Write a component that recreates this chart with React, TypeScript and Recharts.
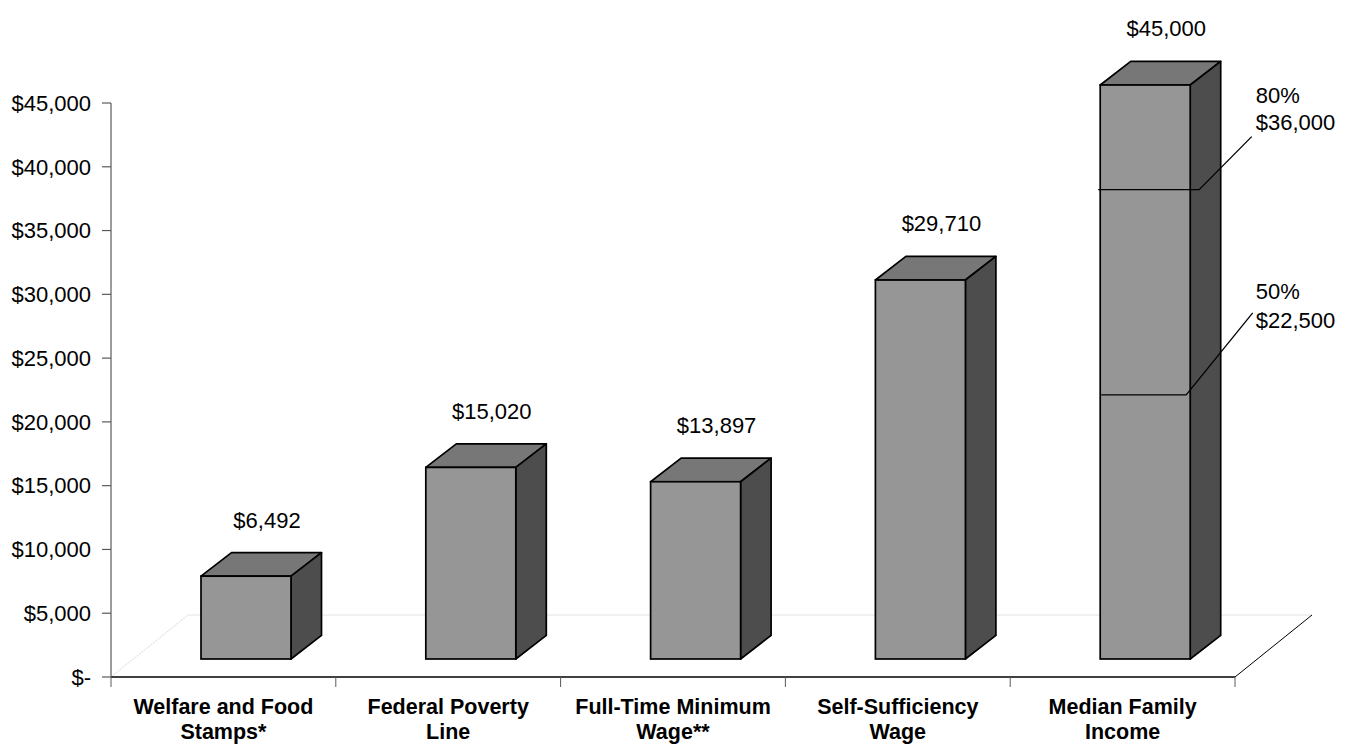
import React from 'react';
import { BarChart, Bar, XAxis, YAxis } from 'recharts';

// ---------- data ----------
const categoryLines: string[][] = [
  ['Welfare and Food', 'Stamps*'],
  ['Federal Poverty', 'Line'],
  ['Full-Time Minimum', 'Wage**'],
  ['Self-Sufficiency', 'Wage'],
  ['Median Family', 'Income'],
];
const incomeValues = [6492, 15020, 13897, 29710, 45000];
const valueLabels = ['$6,492', '$15,020', '$13,897', '$29,710', '$45,000'];
const yTickValues = [0, 5000, 10000, 15000, 20000, 25000, 30000, 35000, 40000, 45000];
const yTickLabels = ['$-', '$5,000', '$10,000', '$15,000', '$20,000', '$25,000', '$30,000', '$35,000', '$40,000', '$45,000'];
// lines drawn across the median-income bar (positions)
const medianMarkValues = [36800, 20700];
const medianMarkPercents = ['80%', '50%'];
const medianMarkAmounts = ['$36,000', '$22,500'];
const annotatedIndex = 4;

// ---------- layout / style ----------
const W = 1349;
const H = 745;
const MARGIN = { top: 103, right: 114, bottom: 0, left: 0 };
const Y_AXIS_W = 111;
const X_AXIS_H = 68;
const PLOT_LEFT = MARGIN.left + Y_AXIS_W;
const PLOT_RIGHT = W - MARGIN.right;
const BASE_Y = H - MARGIN.bottom - X_AXIS_H;
const FRONT_DX = 23;
const FRONT_DY = -18;
const DEPTH_DX = 30.5;
const DEPTH_DY = -23.6;
const FLOOR_DX = 77;
const FLOOR_DY = -62;
const FONT = '"Liberation Sans", Arial, sans-serif';
const FRONT_FILL = '#969696';
const TOP_FILL = '#777777';
const SIDE_FILL = '#4d4d4d';
const AXIS_GRAY = '#5a5a5a';
// leader geometry for the two marks (relative offsets)
const markLayout = [
  { hStart: -2, hEnd: 9, leadEndDx: -4, leadEndDy: -53, pctDy: -87, amtDy: -60 },
  { hStart: 1, hEnd: -4, leadEndDx: -3, leadEndDy: -82, pctDy: -96, amtDy: -67 },
];

const data = categoryLines.map((l, i) => ({ name: l.join(' '), value: incomeValues[i] }));

function Floor() {
  const bx = PLOT_LEFT + FLOOR_DX;
  const by = BASE_Y + FLOOR_DY;
  return (
    <g>
      <line x1={PLOT_LEFT} y1={BASE_Y} x2={bx} y2={by} stroke="#d8d8d8" strokeWidth={1} strokeDasharray="2 1" />
      <line x1={bx} y1={by} x2={PLOT_RIGHT + FLOOR_DX} y2={by} stroke="#e2e2e2" strokeWidth={1} />
      <line x1={PLOT_RIGHT} y1={BASE_Y} x2={PLOT_RIGHT + FLOOR_DX} y2={by} stroke="#000" strokeWidth={1} />
    </g>
  );
}

function Box3D(props: any) {
  const { x, y, width, height, index } = props;
  const fx = x + FRONT_DX;
  const fy = y + FRONT_DY;
  const fr = fx + width;
  const fb = fy + height;
  const top = `${fx},${fy} ${fx + DEPTH_DX},${fy + DEPTH_DY} ${fr + DEPTH_DX},${fy + DEPTH_DY} ${fr},${fy}`;
  const side = `${fr},${fy} ${fr + DEPTH_DX},${fy + DEPTH_DY} ${fr + DEPTH_DX},${fb + DEPTH_DY} ${fr},${fb}`;
  const pxPerUnit = height / incomeValues[index];
  const labelX = fr + DEPTH_DX + 35;
  return (
    <g>
      <polygon points={top} fill={TOP_FILL} stroke="#000" strokeWidth={1.7} strokeLinejoin="round" />
      <polygon points={side} fill={SIDE_FILL} stroke="#000" strokeWidth={1.7} strokeLinejoin="round" />
      <rect x={fx} y={fy} width={width} height={height} fill={FRONT_FILL} stroke="#000" strokeWidth={1.7} />
      <text x={fx + width / 2 + 21} y={fy + DEPTH_DY - 25} textAnchor="middle" fontFamily={FONT} fontSize={22} fill="#000">
        {valueLabels[index]}
      </text>
      {index === annotatedIndex &&
        medianMarkValues.map((v, k) => {
          const ly = fb - v * pxPerUnit;
          const m = markLayout[k];
          const hx2 = fr + m.hEnd;
          return (
            <g key={k}>
              <polyline
                points={`${fx + m.hStart},${ly} ${hx2},${ly} ${labelX + m.leadEndDx},${ly + m.leadEndDy}`}
                fill="none"
                stroke="#000"
                strokeWidth={1.3}
              />
              <text x={labelX} y={ly + m.pctDy} fontFamily={FONT} fontSize={22} fill="#000">
                {medianMarkPercents[k]}
              </text>
              <text x={labelX} y={ly + m.amtDy} fontFamily={FONT} fontSize={22} fill="#000">
                {medianMarkAmounts[k]}
              </text>
            </g>
          );
        })}
    </g>
  );
}

function CategoryTick(props: any) {
  const { x, y, payload } = props;
  const idx = data.findIndex((d) => d.name === payload.value);
  const band = (PLOT_RIGHT - PLOT_LEFT) / categoryLines.length;
  const lines = categoryLines[idx] || [String(payload.value)];
  return (
    <g>
      <line x1={x - band / 2} y1={y} x2={x - band / 2} y2={y + 10} stroke={AXIS_GRAY} strokeWidth={1} />
      {idx === categoryLines.length - 1 && (
        <line x1={x + band / 2} y1={y} x2={x + band / 2} y2={y + 10} stroke={AXIS_GRAY} strokeWidth={1} />
      )}
      {lines.map((t, i) => (
        <text key={i} x={x} y={y + 37 + i * 24.5} textAnchor="middle" fontFamily={FONT} fontWeight="bold" fontSize={21.5} fill="#000">
          {t}
        </text>
      ))}
    </g>
  );
}

export default function App() {
  return (
    <div style={{ position: 'absolute', left: 0, top: 0, width: W, height: H, background: '#fff' }}>
      <BarChart width={W} height={H} data={data} margin={MARGIN}>
        <Floor />
        <XAxis
          dataKey="name"
          height={X_AXIS_H}
          interval={0}
          tickLine={false}
          tickSize={0}
          tickMargin={0}
          axisLine={{ stroke: '#000', strokeWidth: 1.3 }}
          tick={<CategoryTick />}
        />
        <YAxis
          type="number"
          width={Y_AXIS_W}
          domain={[0, 45000]}
          ticks={yTickValues}
          interval={0}
          tickSize={9}
          tickMargin={11}
          axisLine={{ stroke: AXIS_GRAY, strokeWidth: 1.2 }}
          tickLine={{ stroke: AXIS_GRAY, strokeWidth: 1.2 }}
          tick={{ fill: '#000', fontSize: 22, fontFamily: FONT }}
          tickFormatter={(v: number) => yTickLabels[yTickValues.indexOf(v)] ?? String(v)}
        />
        <Bar dataKey="value" barSize={90} isAnimationActive={false} shape={<Box3D />} />
      </BarChart>
    </div>
  );
}
